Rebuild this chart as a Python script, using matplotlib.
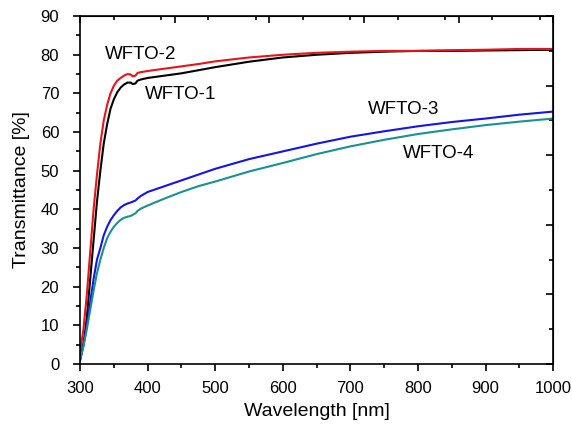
import matplotlib
matplotlib.use('Agg')
import matplotlib.pyplot as plt
from matplotlib.ticker import MultipleLocator

plt.rcParams['font.family'] = ['Liberation Sans', 'DejaVu Sans']

# wavelength [nm] sample points
wl = [300, 305, 310, 315, 320, 325, 330, 335, 340, 345, 350, 355, 360, 365, 370, 375, 378,
      382, 385, 390, 400, 425, 450, 475, 500, 550, 600, 650, 700, 750, 800, 850, 900, 950, 1000]

# transmittance [%]
wfto1 = [1, 5, 12, 22, 32, 42, 50, 57, 62, 66, 68.5, 70.3, 71.5, 72.3, 72.8, 72.8, 72.4,
         72.6, 73.3, 73.6, 74.0, 74.6, 75.2, 76.0, 76.8, 78.2, 79.3, 80.0, 80.5, 80.8, 81.0, 81.0, 81.1, 81.2, 81.3]
wfto2 = [3, 9, 18, 29, 40, 49, 57, 63, 67, 70, 72, 73.3, 74.0, 74.6, 75.0, 74.9, 74.4,
         74.6, 75.3, 75.5, 75.8, 76.4, 77.0, 77.6, 78.3, 79.3, 80.0, 80.5, 80.8, 81.0, 81.0, 81.2, 81.3, 81.5, 81.5]
wfto3 = [1, 5, 10, 16, 22, 27, 30, 33.3, 35.5, 37.2, 38.5, 39.6, 40.5, 41.1, 41.5, 41.8, 42.0,
         42.3, 42.8, 43.5, 44.5, 46.0, 47.5, 49.0, 50.5, 53.0, 55.0, 57.0, 58.8, 60.2, 61.5, 62.6, 63.5, 64.5, 65.3]
wfto4 = [1, 4.5, 9, 14, 19, 23.5, 27, 30, 32.5, 34.2, 35.5, 36.5, 37.3, 37.8, 38.1, 38.3, 38.6,
         39.0, 39.6, 40.2, 41.0, 42.8, 44.5, 46.0, 47.2, 49.8, 52.0, 54.3, 56.3, 58.0, 59.5, 60.7, 61.8, 62.7, 63.5]

fig = plt.figure(figsize=(5.72, 4.24), dpi=100)
ax = fig.add_axes([0.14, 0.1415, 0.827, 0.8205])

ax.plot(wl, wfto1, color='black', lw=1.5)
ax.plot(wl, wfto2, color='#e8141c', lw=1.5)
ax.plot(wl, wfto3, color='#1414e6', lw=1.5)
ax.plot(wl, wfto4, color='#1a9090', lw=1.5)

ax.text(337, 80, 'WFTO-2', fontsize=13.5, va='center')
ax.text(396, 69.7, 'WFTO-1', fontsize=13.5, va='center')
ax.text(726, 65.9, 'WFTO-3', fontsize=13.5, va='center')
ax.text(778, 54.4, 'WFTO-4', fontsize=13.5, va='center')

ax.set_xlim(300, 1000)
ax.set_ylim(0, 90)
ax.xaxis.set_major_locator(MultipleLocator(100))
ax.xaxis.set_minor_locator(MultipleLocator(50))
ax.yaxis.set_major_locator(MultipleLocator(10))
ax.yaxis.set_minor_locator(MultipleLocator(5))
ax.tick_params(which='both', direction='out', labelsize=12, width=1.2)
ax.tick_params(which='major', length=5)
ax.tick_params(which='minor', length=3)
ax.tick_params(axis='x', which='major', pad=7)
ax.tick_params(axis='y', which='major', pad=10)

for s in ax.spines.values():
    s.set_linewidth(1.2)

# top and right axes: inward ticks, no labels
top = ax.secondary_xaxis('top')
top.set_xticks([300, 440, 580, 720, 860, 1000])
top.xaxis.set_minor_locator(MultipleLocator(70))
top.tick_params(which='both', direction='in', labeltop=False, width=1.2)
top.tick_params(which='major', length=5)
top.tick_params(which='minor', length=3)

right = ax.secondary_yaxis('right')
right.set_yticks([0, 18, 36, 54, 72, 90])
right.yaxis.set_minor_locator(MultipleLocator(9))
right.tick_params(which='both', direction='in', labelright=False, width=1.2)
right.tick_params(which='major', length=5)
right.tick_params(which='minor', length=3)

ax.set_xlabel('Wavelength [nm]', fontsize=14, labelpad=5)
ax.set_ylabel('Transmittance [%]', fontsize=14, labelpad=8)

fig.savefig('out.png', dpi=100)
